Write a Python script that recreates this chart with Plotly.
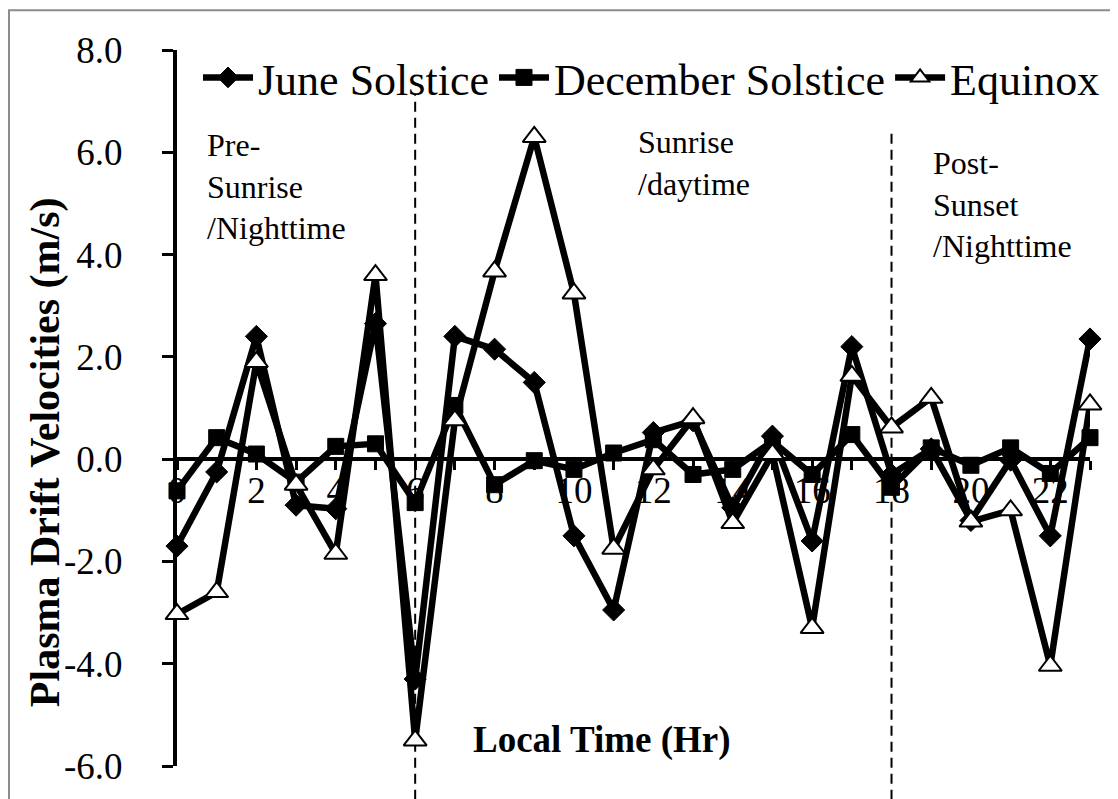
import plotly.graph_objects as go

hours = list(range(24))
june = [-1.7, -0.25, 2.4, -0.9, -0.97, 2.65, -4.3, 2.4, 2.15, 1.5, -1.5, -2.95,
        0.52, 0.75, -0.95, 0.45, -1.6, 2.2, -0.3, 0.2, -1.2, -0.02, -1.5, 2.35]
december = [-0.62, 0.42, 0.1, -0.45, 0.25, 0.3, -0.85, 1.05, -0.5, -0.03, -0.2, 0.12,
            0.38, -0.3, -0.2, 0.35, -0.3, 0.48, -0.55, 0.22, -0.12, 0.22, -0.28, 0.42]
equinox = [-3.03, -2.6, 1.9, -0.5, -1.85, 3.6, -5.5, 0.76, 3.67, 6.3, 3.24, -1.75,
           -0.2, 0.8, -1.25, 0.1, -3.3, 1.63, 0.62, 1.2, -1.22, -1.0, -4.04, 1.07]

series_names = ["June Solstice", "December Solstice", "Equinox"]
y_tick_vals = [-6, -4, -2, 0, 2, 4, 6, 8]
y_tick_text = ["-6.0", "-4.0", "-2.0", "0.0", "2.0", "4.0", "6.0", "8.0"]
x_tick_vals = list(range(0, 24, 2))
x_tick_text = [str(v) for v in x_tick_vals]
region_bounds = [6, 18]
region_labels = ["Pre-<br>Sunrise<br>/Nighttime", "Sunrise<br>/daytime", "Post-<br>Sunset<br>/Nighttime"]

FONT = "Liberation Serif"

fig = go.Figure()
fig.add_trace(go.Scatter(
    x=hours, y=june, name=series_names[0], mode="lines+markers",
    line=dict(color="black", width=6.5),
    marker=dict(symbol="diamond", size=17, color="black", line=dict(color="black", width=1)),
    cliponaxis=False))
fig.add_trace(go.Scatter(
    x=hours, y=december, name=series_names[1], mode="lines+markers",
    line=dict(color="black", width=6.5),
    marker=dict(symbol="square", size=16, color="black", line=dict(color="black", width=1)),
    cliponaxis=False))
fig.add_trace(go.Scatter(
    x=hours, y=equinox, name=series_names[2], mode="lines+markers",
    line=dict(color="black", width=6.5),
    marker=dict(symbol="triangle-up", size=20, color="white", line=dict(color="black", width=2)),
    cliponaxis=False))

# page body has an 8px margin: figure origin is at screen (8, 8)
OFF = 8
W, H = 1118 - OFF, 799 - OFF
L, R, T, B = 177 - OFF, 28, 50 - OFF, 28
pw = W - L - R
ph = H - T - B

def px_x(p):
    # p: screen pixel x
    return (p - OFF - L) / pw

def px_y(p):
    # p: screen pixel y
    return (H - B - (p - OFF)) / ph

fig.update_layout(
    width=W, height=H,
    margin=dict(l=L, r=R, t=T, b=B),
    paper_bgcolor="white", plot_bgcolor="white",
    font=dict(family=FONT, color="black", size=30),
    showlegend=True,
    legend=dict(orientation="h", x=px_x(198), y=px_y(78), xanchor="left", yanchor="middle",
                font=dict(family=FONT, size=44, color="black"),
                bgcolor="rgba(0,0,0,0)", itemwidth=50, tracegroupgap=0),
    xaxis=dict(range=[0, 23], anchor="free", position=6 / 14,
               showline=True, linecolor="black", linewidth=4,
               tickvals=x_tick_vals, ticktext=x_tick_text,
               ticks="outside", ticklen=9, tickwidth=3, tickcolor="black",
               ticklabelstandoff=-12,
               minor=dict(dtick=1, tick0=0, ticks="outside", ticklen=9, tickwidth=3, tickcolor="black", showgrid=False),
               showgrid=False, zeroline=False,
               tickfont=dict(family=FONT, size=37, color="black"),
               layer="below traces"),
    yaxis=dict(range=[-6, 8], showline=True, linecolor="black", linewidth=4,
               tickvals=y_tick_vals, ticktext=y_tick_text,
               ticks="outside", ticklen=11, tickwidth=3, tickcolor="black",
               ticklabelstandoff=32,
               showgrid=False, zeroline=False,
               tickfont=dict(family=FONT, size=37, color="black"),
               layer="below traces"),
)

# outer chart border
fig.add_shape(type="rect", xref="paper", yref="paper",
              x0=px_x(9), x1=px_x(1130), y0=px_y(812), y1=px_y(10),
              line=dict(color="#8c8c8c", width=2), fillcolor="rgba(0,0,0,0)", layer="below")

# dashed region separators
for xv, ytop in zip(region_bounds, [95, 130]):
    fig.add_shape(type="line", xref="x", yref="paper", x0=xv, x1=xv,
                  y0=px_y(805), y1=px_y(ytop),
                  line=dict(color="black", width=2, dash="10px,6px"), layer="below")

# region labels
for txt, xp, yp in zip(region_labels, [205, 636, 931], [126, 122, 144]):
    fig.add_annotation(text=txt, xref="paper", yref="paper", x=px_x(xp), y=px_y(yp),
                       xanchor="left", yanchor="top", align="left", showarrow=False,
                       font=dict(family=FONT, size=32, color="black"))

# axis titles
fig.add_annotation(text="<b>Plasma Drift Velocities (m/s)</b>", xref="paper", yref="paper",
                   x=px_x(45), y=px_y(455), xanchor="center", yanchor="middle",
                   textangle=-90, showarrow=False,
                   font=dict(family=FONT, size=42, color="black"))
fig.add_annotation(text="<b>Local Time (Hr)</b>", xref="paper", yref="paper",
                   x=px_x(602), y=px_y(745), xanchor="center", yanchor="middle",
                   showarrow=False, font=dict(family=FONT, size=37, color="black"))

fig.write_html("out.html")
